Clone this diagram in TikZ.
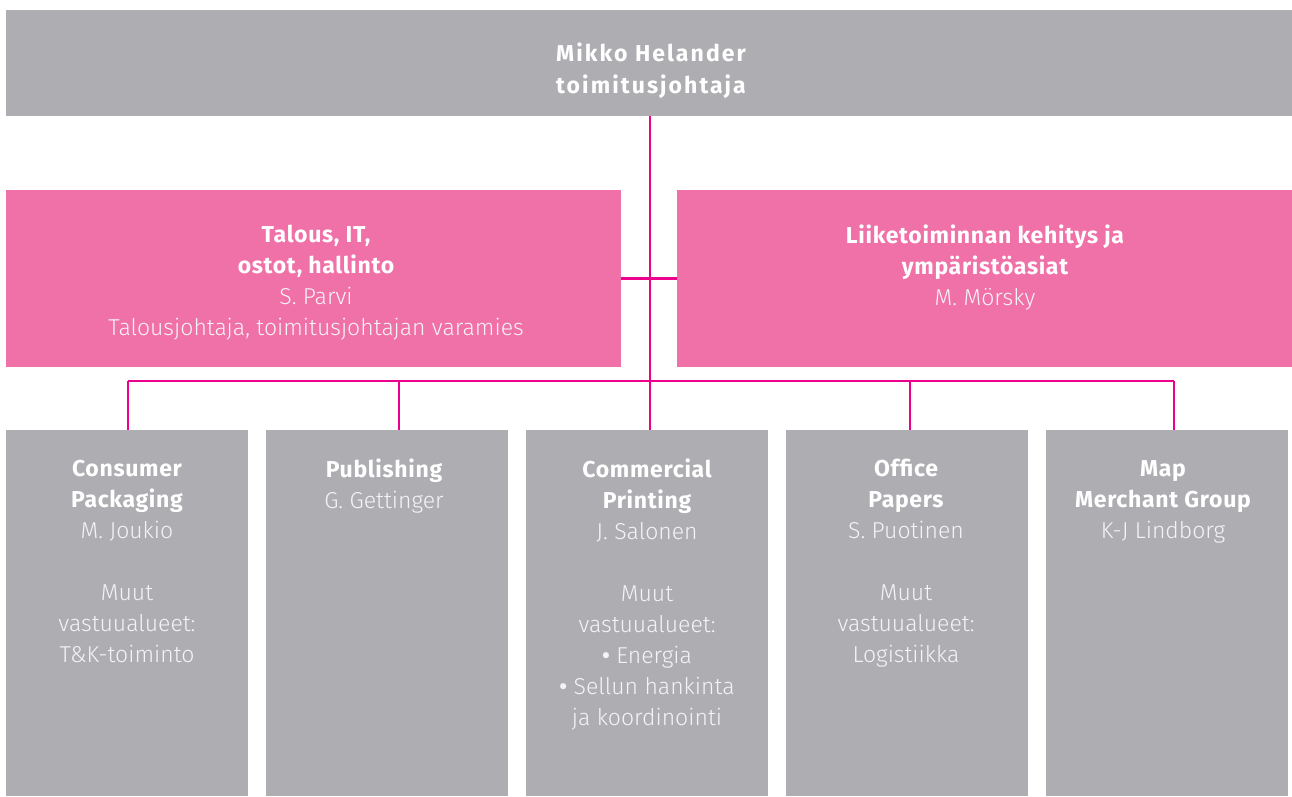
\documentclass[tikz,border=0pt]{standalone}
\usepackage{fontspec}
\setmainfont{Fira Sans}[BoldFeatures={LetterSpace=3}]
\newfontfamily\lightfont{Fira Sans Light}
\newfontfamily\headfont{Fira Sans Bold}[LetterSpace=9]
\newcommand{\bul}{{\bfseries\textbullet}}
\begin{document}
\definecolor{boxgrey}{HTML}{AEADB1}
\definecolor{boxpink}{HTML}{F070A8}
\definecolor{linkpink}{HTML}{EC008C}
\definecolor{softwhite}{HTML}{F4F4F6}
\begin{tikzpicture}[x=1pt,y=-1pt,
  panel/.style={rectangle,inner sep=0pt,outer sep=0pt,draw=none},
  greypanel/.style={panel,fill=boxgrey},
  pinkpanel/.style={panel,fill=boxpink},
  unit/.style={greypanel,minimum width=242pt,minimum height=366pt},
  label/.style={anchor=north,align=center,inner sep=0pt,text=white,
    font=\fontsize{23}{31}\selectfont},
  link/.style={draw=linkpink,line width=2.7pt}]
\useasboundingbox (0,0) rectangle (1292,796);

% boxes
\node[greypanel,minimum width=1286pt,minimum height=106pt] (ceo) at (649,63) {};
\node[pinkpanel,minimum width=615pt,minimum height=177pt] (fin) at (313.5,278.5) {};
\node[pinkpanel,minimum width=615pt,minimum height=177pt] (dev) at (984.5,278.5) {};
\node[unit] (cpk) at (127,613) {};
\node[unit] (pub) at (387,613) {};
\node[unit] (cpr) at (647,613) {};
\node[unit] (off) at (907,613) {};
\node[unit] (mmg) at (1167,613) {};

% connectors
\coordinate (b1) at (128,381);
\coordinate (b2) at (399,381);
\coordinate (b3) at (650,381);
\coordinate (b4) at (910,381);
\coordinate (b5) at (1174,381);
\draw[link] (ceo.south -| b3) -- (cpr.north -| b3);
\draw[link] (fin.east) -- (dev.west);
\draw[link] (b1) -- (b5);
\draw[link] (b1) -- (cpk.north -| b1);
\draw[link] (b2) -- (pub.north -| b2);
\draw[link] (b4) -- (off.north -| b4);
\draw[link] (b5) -- (mmg.north -| b5);

% texts
\node[label,font=\headfont\fontsize{23}{32}\selectfont] (ceot) at (651,43)
  {Mikko Helander\\toimitusjohtaja};
\node[label] (fint) at (316,225)
  {\bfseries Talous, IT,\\\bfseries ostot, hallinto\\
   \lightfont\color{softwhite}S. Parvi\\
   \lightfont\color{softwhite}Talousjohtaja, toimitusjohtajan varamies};
\node[label] (devt) at (985,225)
  {\bfseries Liiketoiminnan kehitys ja\\\bfseries ympäristöasiat\\
   \lightfont\color{softwhite}M. Mörsky};
\node[label] (cpkt) at (127,460)
  {\bfseries Consumer\\\bfseries Packaging\\
   \lightfont\color{softwhite}M. Joukio\\ \mbox{}\\
   \lightfont\color{softwhite}Muut\\
   \lightfont\color{softwhite}vastuualueet:\\
   \lightfont\color{softwhite}T\&K-toiminto};
\node[label] (pubt) at (384,459)
  {\bfseries Publishing\\
   \lightfont\color{softwhite}G. Gettinger};
\node[label] (cprt) at (647,459)
  {\bfseries Commercial\\\bfseries Printing\\
   \lightfont\color{softwhite}J. Salonen\\ \mbox{}\\
   \lightfont\color{softwhite}Muut\\
   \lightfont\color{softwhite}vastuualueet:\\
   \lightfont\color{softwhite}\bul\ Energia\\
   \lightfont\color{softwhite}\bul\ Sellun hankinta\\
   \lightfont\color{softwhite}ja koordinointi};
\node[label] (offt) at (906,459)
  {\bfseries Office\\\bfseries Papers\\
   \lightfont\color{softwhite}S. Puotinen\\ \mbox{}\\
   \lightfont\color{softwhite}Muut\\
   \lightfont\color{softwhite}vastuualueet:\\
   \lightfont\color{softwhite}Logistiikka};
\node[label] (mmgt) at (1163,460)
  {\bfseries Map\\\bfseries Merchant Group\\
   \lightfont\color{softwhite}K-J Lindborg};
\end{tikzpicture}
\end{document}
